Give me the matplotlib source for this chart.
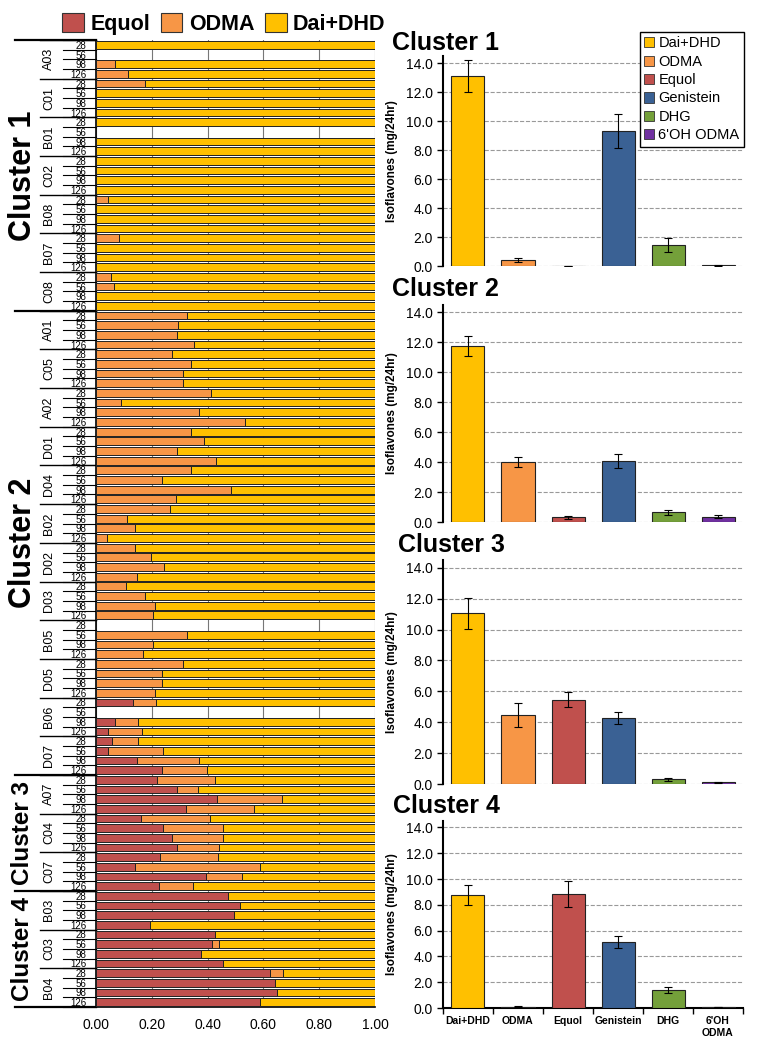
import numpy as np
import matplotlib
matplotlib.use("Agg")
import matplotlib.pyplot as plt
from matplotlib.patches import Patch

plt.rcParams['font.family'] = ['Liberation Sans', 'DejaVu Sans']

# ---- left panel: fraction of daidzein metabolites per subject / day ----
clusters = ["Cluster 1", "Cluster 2", "Cluster 3", "Cluster 4"]
subjects = [["A03", "C01", "B01", "C02", "B08", "B07", "C08"],
            ["A01", "C05", "A02", "D01", "D04", "B02", "D02", "D03", "B05", "D05", "B06", "D07"],
            ["A07", "C04", "C07"],
            ["B03", "C03", "B04"]]
days = ["28", "56", "98", "126"]

nan = np.nan
# equol fraction, 4 days per subject (nan = no sample)
equol_frac = [
    0, nan, 0, 0,   0, 0, 0, 0,   0, nan, 0, 0,   0, 0, 0, 0,
    0, 0, 0, 0,   0, 0, 0, 0,   0, 0, 0, 0,
    0, 0, 0, 0,   0, 0, 0, 0,   0, 0, 0, 0,   0, 0, 0, 0,
    0, 0, 0, 0,   0, 0, 0, 0,   0, 0, 0, 0,   0, 0, 0, 0,
    nan, 0, 0, 0,   0, 0, 0, 0,
    0.132, nan, 0.068, 0.042,   0.056, 0.043, 0.146, 0.238,
    0.218, 0.291, 0.433, 0.323,   0.162, 0.239, 0.272, 0.291,   0.231, 0.139, 0.395, 0.225,
    0.474, 0.517, 0.496, 0.195,   0.426, 0.414, 0.378, 0.455,   0.625, 0.641, 0.648, 0.588,
]
# ODMA fraction
odma_frac = [
    0, nan, 0.068, 0.114,   0.177, 0, 0, 0,   0, nan, 0, 0,   0, 0, 0, 0,
    0.042, 0, 0, 0,   0.081, 0, 0, 0,   0.055, 0.063, 0, 0,
    0.326, 0.293, 0.292, 0.353,   0.273, 0.339, 0.311, 0.311,
    0.411, 0.088, 0.369, 0.535,   0.339, 0.387, 0.289, 0.430,
    0.340, 0.236, 0.484, 0.287,   0.265, 0.112, 0.141, 0.041,
    0.140, 0.198, 0.243, 0.146,   0.106, 0.175, 0.211, 0.205,
    nan, 0.326, 0.206, 0.170,   0.311, 0.236, 0.236, 0.211,
    0.082, nan, 0.082, 0.123,   0.095, 0.196, 0.222, 0.159,
    0.207, 0.073, 0.235, 0.245,   0.245, 0.217, 0.182, 0.150,   0.207, 0.448, 0.127, 0.122,
    0, 0, 0, 0,   0, 0.027, 0, 0,   0.046, 0, 0, 0,
]

# ---- right panels: mean excretion per cluster ----
compounds = ["Dai+DHD", "ODMA", "Equol", "Genistein", "DHG", "6'OH ODMA"]
tick_names = ["Dai+DHD", "ODMA", "Equol", "Genistein", "DHG", "6'OH\nODMA"]
means = [[13.12, 0.41, 0.01, 9.33, 1.43, 0.05],
         [11.76, 3.98, 0.31, 4.07, 0.64, 0.36],
         [11.06, 4.47, 5.46, 4.28, 0.30, 0.10],
         [8.79, 0.10, 8.87, 5.13, 1.39, 0.08]]
errs = [[1.13, 0.15, 0.0, 1.17, 0.48, 0.02],
        [0.64, 0.33, 0.11, 0.46, 0.16, 0.08],
        [1.00, 0.80, 0.48, 0.41, 0.08, 0.03],
        [0.77, 0.06, 1.00, 0.49, 0.23, 0.03]]

c_dai, c_odma, c_eq = '#FFC000', '#F79646', '#C0504D'
bar_colors = [c_dai, c_odma, c_eq, '#3A6194', '#74A03A', '#7030A0']

W, H = 764, 1048
def box(l, t, r, b):
    return [l / W, 1 - b / H, (r - l) / W, (b - t) / H]

fig = plt.figure(figsize=(W / 100, H / 100), dpi=100, facecolor='w')

ax = fig.add_axes(box(96, 40, 375, 1007))
eq = np.array(equol_frac, float)
od = np.array(odma_frac, float)
n = len(eq)
y = np.arange(n)
ok = ~np.isnan(eq)
dai = 1 - eq - od
kw = dict(height=0.8, edgecolor='#222222', linewidth=0.7, zorder=3)
ax.barh(y[ok], eq[ok], color=c_eq, **kw)
ax.barh(y[ok], od[ok], left=eq[ok], color=c_odma, **kw)
ax.barh(y[ok], dai[ok], left=(eq + od)[ok], color=c_dai, **kw)
ax.set_xlim(0, 1)
ax.set_ylim(n - 0.5, -0.5)
ax.xaxis.grid(True, color='#777777', lw=0.8)
ax.set_axisbelow(True)
ax.set_xticks(np.arange(0, 1.01, 0.2))
ax.set_xticklabels([f"{v:.2f}" for v in np.arange(0, 1.01, 0.2)], fontsize=10)
ax.tick_params(axis='x', length=0, pad=8)
ax.set_yticks(y)
ax.set_yticklabels(days * (n // 4), fontsize=7)
ax.tick_params(axis='y', length=0, pad=7)
for s in ['top', 'right']:
    ax.spines[s].set_visible(False)
ax.spines['left'].set_linewidth(1.2)
ax.spines['bottom'].set_linewidth(1.2)

tr = ax.get_yaxis_transform()
for k in range(n + 1):
    ax.plot([-0.118, 0], [k - 0.5, k - 0.5], color='k', lw=0.8, transform=tr, clip_on=False)

row = 0
for ci, subs in enumerate(subjects):
    c_start = row
    for s in subs:
        ax.plot([-0.2, 0], [row - 0.5, row - 0.5], color='k', lw=1.0, transform=tr, clip_on=False)
        ax.text(-0.168, row + 1.5, s, rotation=90, ha='center', va='center',
                fontsize=9, transform=tr)
        row += 4
    ax.plot([-0.29, 0], [c_start - 0.5, c_start - 0.5], color='k', lw=1.6, transform=tr, clip_on=False)
    size = 22 if ci < 2 else 17.5
    ax.text(-0.262, (c_start + row - 1) / 2, clusters[ci], rotation=90, ha='center', va='center',
            fontsize=size, fontweight='bold', transform=tr)
ax.plot([-0.29, 0], [n - 0.5, n - 0.5], color='k', lw=1.6, transform=tr, clip_on=False)

fig.legend(handles=[Patch(fc=c, ec='#333333', lw=0.8) for c in [c_eq, c_odma, c_dai]],
           labels=["Equol", "ODMA", "Dai+DHD"], ncol=3, loc='center',
           bbox_to_anchor=(224 / W, 1 - 24 / H), frameon=False,
           prop=dict(weight='bold', size=15.5), handlelength=1.0, handleheight=1.0,
           columnspacing=0.5, handletextpad=0.3)

# ---- right panels ----
spans = [(56, 266), (305, 522), (560, 784), (821, 1008)]
title_pos = [(392, 43), (392, 289), (398, 545), (393, 806)]
x = np.arange(len(compounds))
for i, (t, b) in enumerate(spans):
    a = fig.add_axes(box(443, t, 743, b))
    a.bar(x, means[i], width=0.66, color=bar_colors, edgecolor='#222222', lw=0.8,
          yerr=errs[i], capsize=3, error_kw=dict(lw=0.8, capthick=0.8, ecolor='k'), zorder=3)
    a.set_xlim(-0.5, 5.5)
    a.set_ylim(0, 14.5)
    a.set_yticks(np.arange(0, 15, 2))
    a.set_yticklabels([f"{v:.1f}" for v in np.arange(0, 15, 2)], fontsize=10)
    a.tick_params(axis='y', length=4, width=1)
    a.yaxis.grid(True, ls='--', color='#999999', lw=0.8)
    a.set_axisbelow(True)
    a.spines['top'].set_visible(False)
    a.spines['right'].set_visible(False)
    a.spines['left'].set_linewidth(1.5)
    a.set_ylabel("Isoflavones (mg/24hr)", fontsize=8.5, fontweight='bold')
    a.yaxis.set_label_coords((398 - 443) / 300, 0.5)
    if i < 3:
        a.spines['bottom'].set_visible(False)
        a.set_xticks([])
    else:
        a.spines['bottom'].set_linewidth(1.5)
        a.set_xticks(np.arange(-0.5, 6, 1))
        a.set_xticklabels([])
        a.tick_params(axis='x', which='major', length=4, width=1)
        a.set_xticks(x, minor=True)
        a.set_xticklabels(tick_names, minor=True, fontsize=7.5, fontweight='bold')
        a.tick_params(axis='x', which='minor', length=0, pad=6)
    fig.text(title_pos[i][0] / W, 1 - title_pos[i][1] / H, clusters[i], fontsize=18,
             fontweight='bold', ha='left', va='center')
    if i == 0:
        fig.legend(handles=[Patch(fc=c, ec='#333333', lw=0.6) for c in bar_colors],
                   labels=compounds, loc='upper right',
                   bbox_to_anchor=(744 / W, 1 - 32 / H), fontsize=10.5,
                   fancybox=False, edgecolor='k', framealpha=1, borderaxespad=0,
                   handlelength=0.7, handleheight=0.7, handletextpad=0.3,
                   labelspacing=0.3, borderpad=0.3)

fig.savefig("out.png", dpi=100, facecolor='w')
